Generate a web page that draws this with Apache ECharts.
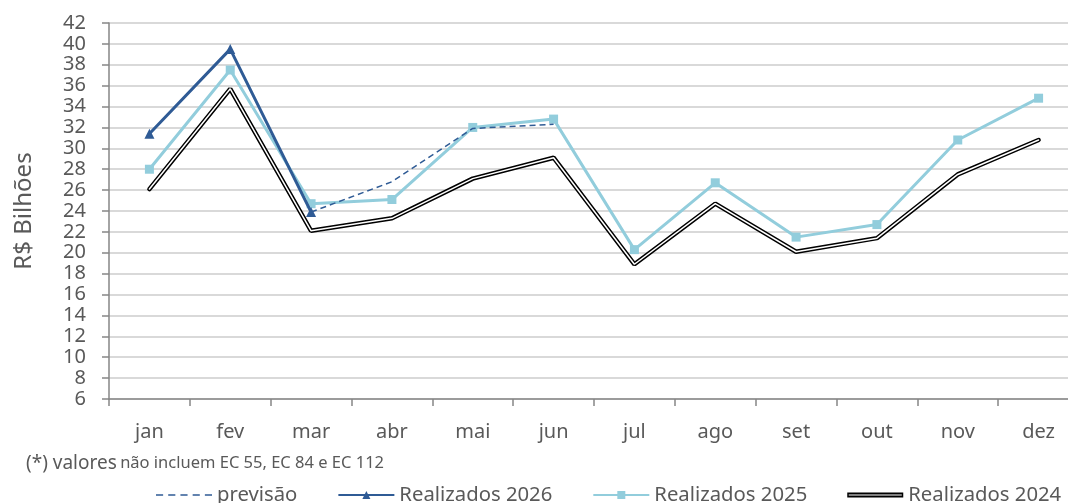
<!DOCTYPE html>
<html>
<head>
<meta charset="utf-8">
<script src="https://cdn.jsdelivr.net/npm/echarts@6/dist/echarts.min.js"></script>
<style>
  html, body { margin: 0; padding: 0; background: #fff; }
  #chart { width: 1068px; height: 503px; }
</style>
</head>
<body>
<div id="chart"></div>
<script>
// data
const months = ['jan', 'fev', 'mar', 'abr', 'mai', 'jun', 'jul', 'ago', 'set', 'out', 'nov', 'dez'];
const previsao = [null, null, 23.9, 26.8, 31.9, 32.3, null, null, null, null, null, null];
const realizados2026 = [31.4, 39.5, 23.9, null, null, null, null, null, null, null, null, null];
const realizados2025 = [28.0, 37.5, 24.7, 25.1, 32.0, 32.8, 20.3, 26.7, 21.5, 22.7, 30.8, 34.8];
const realizados2024 = [26.1, 35.7, 22.1, 23.3, 27.1, 29.1, 18.9, 24.7, 20.1, 21.4, 27.5, 30.8];
const yTicks = { min: 6, max: 42, step: 2 };

const textColor = '#595959';
const font = '"Noto Sans", "Open Sans", sans-serif';
const darkBlue = '#2f5b95';
const lightBlue = '#92cddc';

const chart = echarts.init(document.getElementById('chart'));

const option = {
  animation: false,
  textStyle: { fontFamily: font, color: textColor },
  grid: {
    left: 109,
    width: 970,
    top: 23,
    bottom: 104,
    containLabel: false,
    outerBoundsMode: 'none',
  },
  xAxis: {
    type: 'category',
    data: months,
    boundaryGap: true,
    axisLine: { lineStyle: { color: '#868686', width: 1.5 } },
    axisTick: { show: true, length: 7, lineStyle: { color: '#868686', width: 1.5 } },
    axisLabel: { color: textColor, fontSize: 20, margin: 23, fontFamily: font },
  },
  yAxis: {
    type: 'value',
    min: yTicks.min,
    max: yTicks.max,
    interval: yTicks.step,
    name: 'R$ Bilhões',
    nameLocation: 'middle',
    nameGap: 73,
    nameTextStyle: { fontSize: 24, color: textColor, fontFamily: font },
    axisLine: { show: true, lineStyle: { color: '#868686', width: 1.5 } },
    axisTick: { show: true, length: 7, lineStyle: { color: '#868686', width: 1.5 } },
    axisLabel: { color: textColor, fontSize: 20, margin: 23, fontFamily: font, lineHeight: 20 },
    splitLine: { lineStyle: { color: '#d9d9d9', width: 2 } },
  },
  legend: {
    left: 151,
    top: 480,
    width: 1000,
    itemWidth: 56,
    itemHeight: 10,
    itemGap: 40,
    textStyle: { fontSize: 20.3, color: textColor, fontFamily: font },
    data: [
      {
        name: 'previsão',
        icon: 'path://M0,0H7V1.5H0Z M12,0H19V1.5H12Z M24,0H31V1.5H24Z M36,0H43V1.5H36Z M48,0H55V1.5H48Z',
        itemStyle: { color: darkBlue, borderWidth: 0 },
      },
      { name: 'Realizados 2026' },
      { name: 'Realizados 2025' },
      {
        name: 'Realizados 2024',
        icon: 'path://M0,0H57V5H0Z M1.5,1.9V3.1H55.5V1.9Z',
        itemStyle: { color: '#000', borderWidth: 0 },
      },
    ],
  },
  graphic: [
    {
      type: 'text',
      left: 26,
      top: 454,
      style: {
        text: '{a|(*) valores} {b|não incluem EC 55, EC 84 e EC 112}',
        rich: {
          a: { fontSize: 19, fill: textColor, fontFamily: font },
          b: { fontSize: 16.5, fill: textColor, fontFamily: font },
        },
      },
    },
  ],
  series: [
    {
      name: 'Realizados 2024',
      type: 'line',
      data: realizados2024,
      symbol: 'none',
      color: '#000',
      lineStyle: { color: '#000', width: 4.5, cap: 'round' },
      z: 2,
    },
    {
      name: '2024 inner',
      type: 'line',
      data: realizados2024,
      symbol: 'none',
      silent: true,
      color: '#fff',
      lineStyle: { color: '#fff', width: 1.5, cap: 'round' },
      z: 3,
    },
    {
      name: 'Realizados 2025',
      type: 'line',
      data: realizados2025,
      symbol: 'rect',
      symbolSize: 9,
      color: lightBlue,
      itemStyle: { color: lightBlue, borderWidth: 0 },
      lineStyle: { color: lightBlue, width: 3 },
      z: 4,
    },
    {
      name: 'previsão',
      type: 'line',
      data: previsao,
      symbol: 'none',
      color: darkBlue,
      lineStyle: { color: darkBlue, width: 1.5, type: [6, 4] },
      z: 5,
    },
    {
      name: 'Realizados 2026',
      type: 'line',
      data: realizados2026,
      symbol: 'triangle',
      symbolSize: 10,
      color: darkBlue,
      itemStyle: { color: darkBlue, borderWidth: 0 },
      lineStyle: { color: darkBlue, width: 3 },
      z: 6,
    },
  ],
};

chart.setOption(option);
</script>
</body>
</html>
